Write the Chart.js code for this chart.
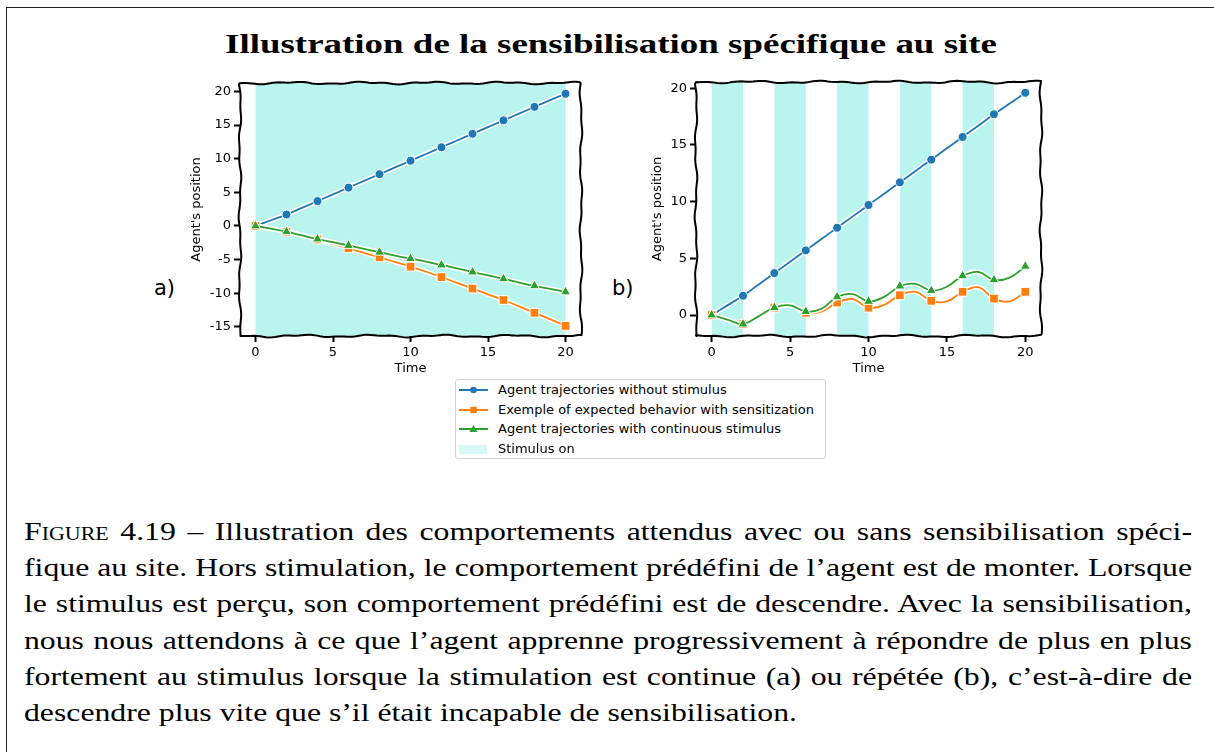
<!DOCTYPE html>
<html lang="fr">
<head>
<meta charset="utf-8">
<title>Sensibilisation spécifique au site</title>
<script src="https://cdn.jsdelivr.net/npm/chart.js@4.4.0/dist/chart.umd.min.js"></script>
<style>
html, body { margin: 0; padding: 0; background: #fff; }
#page { position: relative; width: 1214px; height: 752px; overflow: hidden; }
#frame { position: absolute; left: 6px; top: 7px; width: 1300px; height: 800px;
  border-top: 1.5px solid #222; border-left: 1.5px solid #222; }
#title { position: absolute; left: 225px; top: 30px; transform-origin: 0 0;
  font: bold 28px "Liberation Serif", serif; line-height: 28px; white-space: nowrap; color: #000; }
canvas { position: absolute; }
.tag { position: absolute; font: 21px "DejaVu Sans", sans-serif; color: #000; line-height: 24px; }
#legend { position: absolute; left: 455px; top: 379px; width: 371px; height: 80px;
  border: 1px solid #d3d3d3; border-radius: 3px; background: #fff; box-sizing: border-box; }
.item { position: absolute; left: 0; height: 18px; font: 13px "DejaVu Sans", sans-serif; color: #000;
  line-height: 18px; white-space: nowrap; }
.item canvas { position: absolute; left: 2px; top: 1px; }
.item span { position: absolute; left: 42px; top: 0; }
#caption { position: absolute; left: 24px; top: 514px; width: 1168px; transform-origin: 0 0;
  font: 26px "Liberation Serif", serif; line-height: 36.2px; color: #000; }
#caption div { text-align: justify; text-align-last: justify; white-space: nowrap; }
#caption div.last { text-align-last: left; }
#lastLine span { white-space: nowrap; }
.sc { font-variant: small-caps; }
</style>
</head>
<body>
<div id="page">
  <div id="frame"></div>
  <div id="title">Illustration de la sensibilisation spécifique au site</div>
  <div class="tag" style="left:154px; top:276px;">a)</div>
  <div class="tag" style="left:612px; top:276px;">b)</div>
  <canvas id="chartA" width="410" height="310" style="left:185px; top:70px;"></canvas>
  <canvas id="chartB" width="410" height="310" style="left:646px; top:70px;"></canvas>
  <div id="legend"></div>
  <div id="caption">
    <div><span class="sc">Figure</span> 4.19 – Illustration des comportements attendus avec ou sans sensibilisation spéci-</div>
    <div>fique au site. Hors stimulation, le comportement prédéfini de l’agent est de monter. Lorsque</div>
    <div>le stimulus est perçu, son comportement prédéfini est de descendre. Avec la sensibilisation,</div>
    <div>nous nous attendons à ce que l’agent apprenne progressivement à répondre de plus en plus</div>
    <div>fortement au stimulus lorsque la stimulation est continue (a) ou répétée (b), c’est-à-dire de</div>
    <div class="last"><span id="lastLine">descendre plus vite que s’il était incapable de sensibilisation.</span></div>
  </div>
</div>
<script>
// time steps of the simulation
var times = [0, 1, 2, 3, 4, 5, 6, 7, 8, 9, 10, 11, 12, 13, 14, 15, 16, 17, 18, 19, 20];
var xTicks = [0, 5, 10, 15, 20];
var yTicksA = [-15, -10, -5, 0, 5, 10, 15, 20];
var yTicksB = [0, 5, 10, 15, 20];

// a) continuous stimulus
var blueA = [0, 0.85, 1.7, 2.7, 3.7, 4.7, 5.7, 6.7, 7.7, 8.7, 9.7, 10.7, 11.7, 12.7, 13.7, 14.7, 15.7, 16.7, 17.7, 18.7, 19.65];
var orangeA = [0, -0.4, -0.85, -1.4, -2.0, -2.65, -3.3, -4.0, -4.65, -5.35, -6.05, -6.8, -7.6, -8.45, -9.3, -10.15, -11.0, -11.95, -12.9, -13.85, -14.85];
var greenA = [0, -0.4, -0.85, -1.4, -1.95, -2.4, -2.9, -3.4, -3.9, -4.4, -4.85, -5.3, -5.8, -6.3, -6.85, -7.35, -7.85, -8.4, -8.9, -9.35, -9.8];
var stimStartA = [0];
var stimEndA = [20];

// b) repeated stimulus
var blueB = [0, 0.85, 1.7, 2.7, 3.7, 4.7, 5.7, 6.7, 7.7, 8.7, 9.7, 10.7, 11.7, 12.7, 13.7, 14.7, 15.7, 16.7, 17.7, 18.65, 19.6];
var orangeB = [0, -0.4, -0.8, -0.1, 0.65, 0.85, 0.2, 0.3, 1.1, 1.4, 0.65, 0.9, 1.75, 2.05, 1.25, 1.2, 2.05, 2.45, 1.45, 1.2, 2.05];
var greenB = [0, -0.4, -0.8, -0.1, 0.65, 0.85, 0.3, 0.55, 1.6, 1.85, 1.2, 1.6, 2.55, 2.75, 2.15, 2.5, 3.45, 3.8, 3.1, 3.3, 4.3];
var stimStartB = [0, 4, 8, 12, 16];
var stimEndB = [2, 6, 10, 14, 18];

var seriesLabels = [
    "Agent trajectories without stimulus",
    "Exemple of expected behavior with sensitization",
    "Agent trajectories with continuous stimulus"
];
var seriesColors = ["#1f77b4", "#ff7f0e", "#2ca02c"];
var seriesMarkers = ["circle", "rect", "triangle"];
var markerSizes = [4.5, 6.2, 5.8];
var stimLabel = "Stimulus on";
var stimColor = "rgba(64, 224, 208, 0.37)";
var stimLegendColor = "rgba(64, 224, 208, 0.2)";

const tickFont = { family: "DejaVu Sans", size: 13 };

// turquoise spans where the stimulus is on
const stimulusBands = {
    id: "stimulusBands",
    beforeDatasetsDraw(chart, args, opts) {
        const { ctx, chartArea, scales } = chart;
        ctx.save();
        ctx.fillStyle = stimColor;
        opts.starts.forEach((s, i) => {
            const x0 = scales.x.getPixelForValue(s);
            const x1 = scales.x.getPixelForValue(opts.ends[i]);
            ctx.fillRect(x0, chartArea.top, x1 - x0, chartArea.bottom - chartArea.top);
        });
        ctx.restore();
    }
};

// hand drawn looking frame round the plot area
function wobble(k, seed) {
    return 0.9 * Math.sin(k * 0.09 + seed) + 0.5 * Math.sin(k * 0.23 + seed * 2.1);
}
const sketchyFrame = {
    id: "sketchyFrame",
    afterDatasetsDraw(chart) {
        const { ctx, chartArea: a } = chart;
        ctx.save();
        ctx.strokeStyle = "#000";
        ctx.lineWidth = 2;
        ctx.lineJoin = "round";
        ctx.beginPath();
        for (let x = a.left; x <= a.right; x += 3) {
            const y = a.top + wobble(x, 1.3);
            x === a.left ? ctx.moveTo(x, y) : ctx.lineTo(x, y);
        }
        for (let y = a.top; y <= a.bottom; y += 3) ctx.lineTo(a.right + wobble(y, 2.7), y);
        for (let x = a.right; x >= a.left; x -= 3) ctx.lineTo(x, a.bottom + wobble(x, 0.4));
        for (let y = a.bottom; y >= a.top; y -= 3) ctx.lineTo(a.left + wobble(y, 4.1), y);
        ctx.closePath();
        ctx.stroke();
        ctx.restore();
    }
};

function buildDatasets(seriesValues) {
    const sets = [];
    seriesValues.forEach((vals, s) => {
        const pts = times.map((t, i) => ({ x: t, y: vals[i] }));
        // white outline under each curve
        sets.push({
            label: "",
            data: pts,
            borderColor: "#fff",
            borderWidth: 5,
            pointRadius: 0,
            tension: 0.4,
            order: 6 - 2 * s
        });
        sets.push({
            label: seriesLabels[s],
            data: pts,
            borderColor: seriesColors[s],
            backgroundColor: seriesColors[s],
            borderWidth: 1.8,
            tension: 0.4,
            pointStyle: seriesMarkers[s],
            pointRadius: ctx => (ctx.dataIndex % 2 === 0 ? markerSizes[s] : 0),
            pointBorderColor: "#fff",
            pointBorderWidth: 1,
            order: 5 - 2 * s
        });
    });
    return sets;
}

function makePanel(id, seriesValues, yMin, yMax, yTicks, starts, ends, padTop, padRight, yWidth) {
    return new Chart(document.getElementById(id), {
        type: "line",
        data: { datasets: buildDatasets(seriesValues) },
        plugins: [stimulusBands, sketchyFrame],
        options: {
            responsive: false,
            animation: false,
            devicePixelRatio: 1,
            layout: { padding: { top: padTop, right: padRight, left: 0, bottom: 0 } },
            plugins: {
                legend: { display: false },
                tooltip: { enabled: false },
                stimulusBands: { starts: starts, ends: ends }
            },
            scales: {
                x: {
                    type: "linear",
                    min: -1,
                    max: 21,
                    afterBuildTicks: sc => { sc.ticks = xTicks.map(v => ({ value: v })); },
                    afterFit: sc => { sc.height = 44; },
                    grid: { drawOnChartArea: false, tickLength: 6, tickWidth: 2, tickColor: "#000" },
                    border: { display: false },
                    ticks: { color: "#000", font: tickFont, padding: 3, maxRotation: 0 },
                    title: { display: true, text: "Time", color: "#000", font: tickFont, padding: { top: 0, bottom: 4 } }
                },
                y: {
                    type: "linear",
                    min: yMin,
                    max: yMax,
                    afterBuildTicks: sc => { sc.ticks = yTicks.map(v => ({ value: v })); },
                    afterFit: sc => { sc.width = yWidth; },
                    grid: { drawOnChartArea: false, tickLength: 6, tickWidth: 2, tickColor: "#000" },
                    border: { display: false },
                    ticks: { color: "#000", font: tickFont, padding: 3 },
                    title: { display: true, text: "Agent's position", color: "#000", font: tickFont, padding: { top: 4, bottom: 0 } }
                }
            }
        }
    });
}

var chartA = makePanel("chartA", [blueA, orangeA, greenA], -16.35, 21.25, yTicksA, stimStartA, stimEndA, 13, 14, 55);
var chartB = makePanel("chartB", [blueB, orangeB, greenB], -1.85, 20.55, yTicksB, stimStartB, stimEndB, 12, 15, 50);

// shared legend built from panel a's datasets
(function buildLegend() {
    const box = document.getElementById("legend");
    const entries = chartA.data.datasets.filter(d => d.label);
    entries.push({ label: stimLabel, patch: true });
    entries.forEach((d, i) => {
        const row = document.createElement("div");
        row.className = "item";
        row.style.top = (1 + i * 19.7) + "px";
        const c = document.createElement("canvas");
        c.width = 34; c.height = 16;
        const g = c.getContext("2d");
        if (d.patch) {
            g.fillStyle = stimLegendColor;
            g.fillRect(1, 4, 28, 9);
        } else {
            g.strokeStyle = d.borderColor;
            g.lineWidth = 2;
            g.beginPath(); g.moveTo(1, 8); g.lineTo(30, 8); g.stroke();
            g.fillStyle = d.borderColor;
            const cx = 15.5, cy = 8;
            g.beginPath();
            if (d.pointStyle === "circle") g.arc(cx, cy, 3.3, 0, Math.PI * 2);
            else if (d.pointStyle === "rect") g.rect(cx - 3.2, cy - 3.2, 6.4, 6.4);
            else { g.moveTo(cx, cy - 4); g.lineTo(cx + 4, cy + 3); g.lineTo(cx - 4, cy + 3); g.closePath(); }
            g.fill();
        }
        row.appendChild(c);
        const t = document.createElement("span");
        t.textContent = d.label;
        row.appendChild(t);
        box.appendChild(row);
    });
})();

// the serif fonts here are narrower than the typeset ones: stretch horizontally
(function stretchText() {
    const title = document.getElementById("title");
    const tw = title.getBoundingClientRect().width;
    title.style.transform = "scaleX(" + (772 / tw) + ")";

    const cap = document.getElementById("caption");
    const lw = document.getElementById("lastLine").getBoundingClientRect().width;
    const s = 773 / lw;
    cap.style.width = (1168 / s) + "px";
    cap.style.transform = "scaleX(" + s + ")";
})();
</script>
</body>
</html>
